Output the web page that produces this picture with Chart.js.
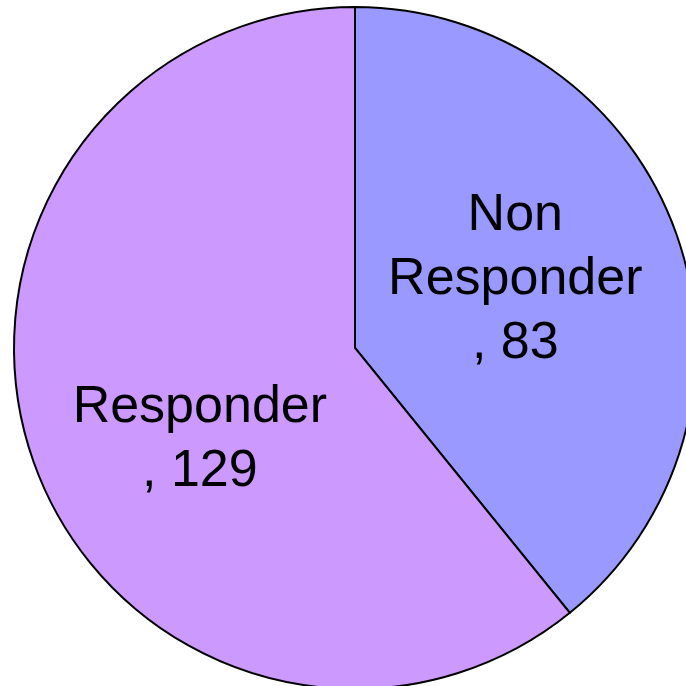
<!DOCTYPE html>
<html>
<head>
<meta charset="utf-8">
<script src="https://cdn.jsdelivr.net/npm/chart.js@4"></script>
<style>
  html, body { margin: 0; padding: 0; background: #fff; overflow: hidden; }
  #wrap { position: absolute; left: 0; top: 0; width: 710px; height: 696px; }
</style>
</head>
<body>
<div id="wrap"><canvas id="pieChart"></canvas></div>
<script>
// Responder split
const categories = ["Non Responder", "Responder"];
const counts = [83, 129];
const sliceColors = ["#9999FF", "#CC99FF"];
// label lines for each slice, and where they sit (as fraction of radius from centre)
const labelLines = [["Non", "Responder", ", " + counts[0]], ["Responder", ", " + counts[1]]];
const labelPos = [[0.47, -0.2], [-0.455, 0.27]];

const sliceLabels = {
  id: "sliceLabels",
  afterDatasetsDraw(chart) {
    const ctx = chart.ctx;
    const arcs = chart.getDatasetMeta(0).data;
    ctx.save();
    ctx.fillStyle = "#000";
    ctx.font = "52px 'Liberation Sans', Arial, sans-serif";
    ctx.textAlign = "center";
    ctx.textBaseline = "middle";
    arcs.forEach((arc, i) => {
      const r = arc.outerRadius;
      const cx = arc.x + labelPos[i][0] * r;
      const cy = arc.y + labelPos[i][1] * r;
      const lines = labelLines[i];
      const lh = 64;
      lines.forEach((t, j) => {
        ctx.fillText(t, cx, cy + (j - (lines.length - 1) / 2) * lh);
      });
    });
    ctx.restore();
  }
};

const ctx = document.getElementById("pieChart").getContext("2d");
const pieChart = new Chart(ctx, {
  type: "pie",
  data: {
    labels: categories,
    datasets: [
      {
        data: counts,
        backgroundColor: sliceColors,
        borderColor: "#000",
        borderWidth: 2,
        borderJoinStyle: "miter",
      },
    ],
  },
  options: {
    responsive: true,
    maintainAspectRatio: false,
    animation: false,
    layout: { padding: { top: 6, bottom: 6 } },
    plugins: {
      legend: { display: false },
      tooltip: { enabled: false },
    },
  },
  plugins: [sliceLabels],
});
</script>
</body>
</html>
